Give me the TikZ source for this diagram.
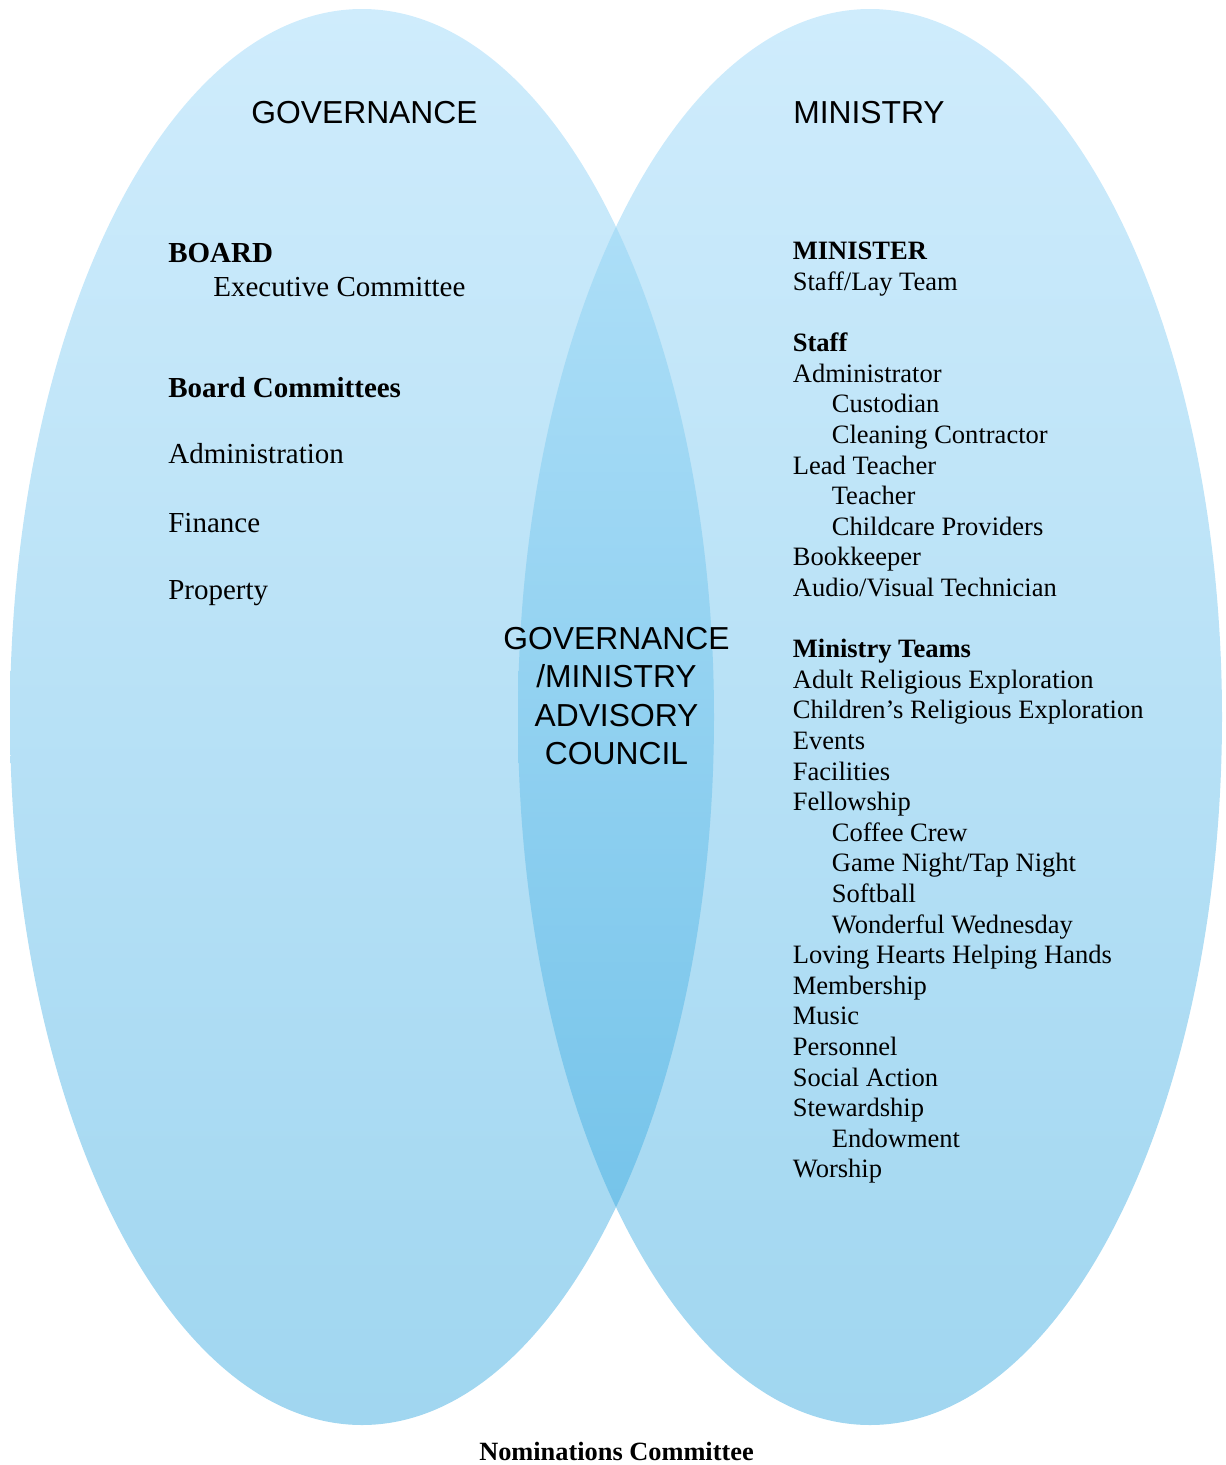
\documentclass[tikz,border=0pt]{standalone}
\usepackage{fontspec}
\setmainfont{Liberation Serif}
\newfontfamily\arialfont{Liberation Sans}
\usetikzlibrary{positioning}
\definecolor{skytop}{RGB}{207,236,252}
\definecolor{skybot}{RGB}{160,214,240}
\definecolor{lenstop}{RGB}{172,222,247}
\definecolor{lensbot}{RGB}{118,196,234}
\tikzset{
title/.style={font=\arialfont\fontsize{18.1}{21.8}\selectfont, inner sep=0pt},
lft/.style={font=\fontsize{16.5}{19}\selectfont, anchor=base west, inner sep=0pt},
rgt/.style={font=\fontsize{15.1}{17.4}\selectfont, anchor=base west, inner sep=0pt}
}
\begin{document}
\begin{tikzpicture}[x=0.02cm,y=-0.02cm]
\useasboundingbox (0,0) rectangle (1225,1465);

\shade[top color=skytop,bottom color=skybot] (362,717) ellipse [x radius=352,y radius=708];
\shade[top color=skytop,bottom color=skybot] (870,717) ellipse [x radius=352,y radius=708];
\begin{scope}
\clip (362,717) ellipse [x radius=352,y radius=708];
\clip (870,717) ellipse [x radius=352,y radius=708];
\shade[top color=lenstop,bottom color=lensbot] (500,227) rectangle (735,1207);
\end{scope}

\node[title,anchor=base] (gov) at (364.5,123) {GOVERNANCE};
\node[title,anchor=base] (min) at (869,123) {MINISTRY};
\node[title,align=center] (council) at (616.5,696) {GOVERNANCE\\/MINISTRY\\ADVISORY\\COUNCIL};

\node[lft] (board) at (168,262) {\textbf{BOARD}};
\node[lft] (exec) at (213,296) {Executive Committee};
\node[lft] (bcom) at (168,397) {\textbf{Board Committees}};
\node[lft] (admin) at (168,463) {Administration};
\node[lft] (fin) at (168,532) {Finance};
\node[lft] (prop) at (168,599) {Property};

\foreach \txt/\k/\ind in {
  {\textbf{MINISTER}}/0/0, {Staff/Lay Team}/1/0,
  {\textbf{Staff}}/3/0, {Administrator}/4/0, {Custodian}/5/1,
  {Cleaning Contractor}/6/1, {Lead Teacher}/7/0, {Teacher}/8/1,
  {Childcare Providers}/9/1, {Bookkeeper}/10/0, {Audio/Visual Technician}/11/0,
  {\textbf{Ministry Teams}}/13/0, {Adult Religious Exploration}/14/0,
  {Children’s Religious Exploration}/15/0, {Events}/16/0, {Facilities}/17/0,
  {Fellowship}/18/0, {Coffee Crew}/19/1, {Game Night/Tap Night}/20/1,
  {Softball}/21/1, {Wonderful Wednesday}/22/1, {Loving Hearts Helping Hands}/23/0,
  {Membership}/24/0, {Music}/25/0, {Personnel}/26/0, {Social Action}/27/0,
  {Stewardship}/28/0, {Endowment}/29/1, {Worship}/30/0}
  \node[rgt] (m\k) at (792.5+39*\ind,259.8+30.6*\k) {\txt};

\node[font=\fontsize{15}{18}\selectfont\bfseries,anchor=base,inner sep=0pt] (nom) at (616.5,1460) {Nominations Committee};
\end{tikzpicture}
\end{document}
